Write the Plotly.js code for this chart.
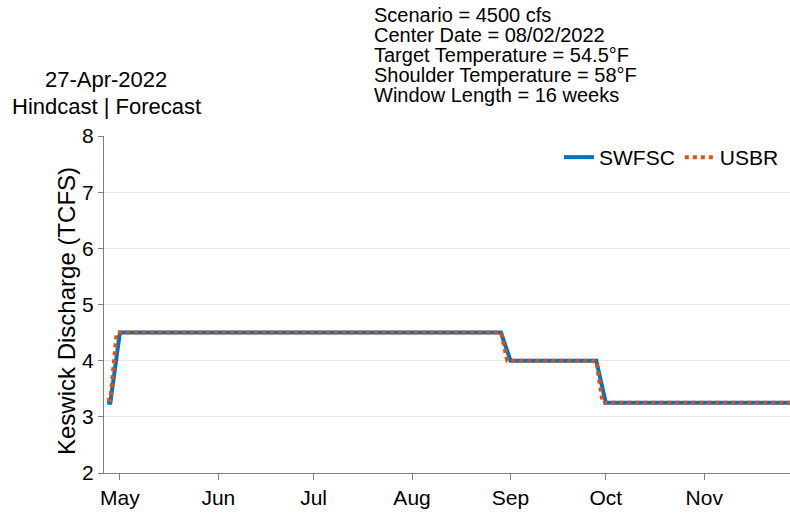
<!DOCTYPE html>
<html><head><meta charset="utf-8">
<script src="https://cdn.plot.ly/plotly-3.0.1.min.js"></script>
<style>html,body{margin:0;padding:0;background:#fff}</style>
</head><body><div id="chart" style="width:790px;height:515px"></div>
<script>
const swfscDates = ['2022-04-27','2022-04-28','2022-05-01','2022-08-29','2022-09-01','2022-09-28','2022-10-01','2022-11-30'];
const swfscValues = [3.25, 3.25, 4.5, 4.5, 4.0, 4.0, 3.25, 3.25];
const usbrDates = ['2022-04-27','2022-04-28','2022-04-30','2022-08-29','2022-08-31','2022-09-28','2022-09-30','2022-11-30'];
const usbrValues = [3.3, 3.3, 4.5, 4.5, 4.0, 4.0, 3.25, 3.25];
const monthTicks = ['2022-05-01','2022-06-01','2022-07-01','2022-08-01','2022-09-01','2022-10-01','2022-11-01'];
const monthLabels = ['May','Jun','Jul','Aug','Sep','Oct','Nov'];
const infoLines = ['Scenario = 4500 cfs','Center Date = 08/02/2022','Target Temperature = 54.5°F','Shoulder Temperature = 58°F','Window Length = 16 weeks'];
const dateLines = ['27-Apr-2022','Hindcast | Forecast'];
const yTitle = 'Keswick Discharge (TCFS)';

const font = 'Liberation Sans, Arial, Helvetica, sans-serif';
const L = 104, R = 790, T = 136, B = 473;
const px = x => (x - L) / (R - L);
const py = y => (B - y) / (B - T);

const annotations = [];
const infoY = [15, 35, 55, 75, 95];
infoLines.forEach((t, i) => annotations.push({text: t, xref: 'paper', yref: 'paper', x: px(372), y: py(infoY[i]), xanchor: 'left', yanchor: 'middle', showarrow: false, font: {family: font, size: 20, color: '#000'}}));
const dY = [79, 106];
dateLines.forEach((t, i) => annotations.push({text: t, xref: 'paper', yref: 'paper', x: px(106), y: py(dY[i]), xanchor: 'center', yanchor: 'middle', showarrow: false, font: {family: font, size: 22, color: '#000'}}));
annotations.push({text: yTitle, xref: 'paper', yref: 'paper', x: px(66), y: py(311), xanchor: 'center', yanchor: 'middle', textangle: -90, showarrow: false, font: {family: font, size: 24, color: '#000'}});

const data = [
  {x: swfscDates, y: swfscValues, type: 'scatter', mode: 'lines', name: 'SWFSC', line: {color: '#0072BD', width: 4}},
  {x: usbrDates, y: usbrValues, type: 'scatter', mode: 'lines', name: 'USBR', line: {color: '#D95319', width: 4, dash: 'dot'}}
];
const layout = {
  width: 790, height: 515,
  margin: {l: L, r: 790 - R, t: T, b: 515 - B, pad: 0},
  paper_bgcolor: '#fff', plot_bgcolor: '#fff',
  showlegend: true,
  legend: {orientation: 'h', x: px(784), xanchor: 'right', y: py(137), yanchor: 'top', font: {family: font, size: 21, color: '#000'}, bgcolor: 'rgba(0,0,0,0)', itemwidth: 30},
  xaxis: {type: 'date', range: ['2022-04-26', '2022-11-28'], tickvals: monthTicks, ticktext: monthLabels,
    ticks: 'outside', ticklen: 6, tickcolor: '#808080', showgrid: false, showline: true, linecolor: '#808080', linewidth: 1,
    zeroline: false, tickfont: {family: font, size: 21, color: '#000'}},
  yaxis: {range: [2, 8], dtick: 1, ticks: 'outside', ticklen: 5, tickcolor: '#808080', showgrid: true, gridcolor: '#e8e8e8',
    showline: true, linecolor: '#808080', linewidth: 1, zeroline: false,
    tickfont: {family: font, size: 21, color: '#000'}},
  annotations: annotations
};
Plotly.newPlot('chart', data, layout, {displayModeBar: false});
</script></body></html>
